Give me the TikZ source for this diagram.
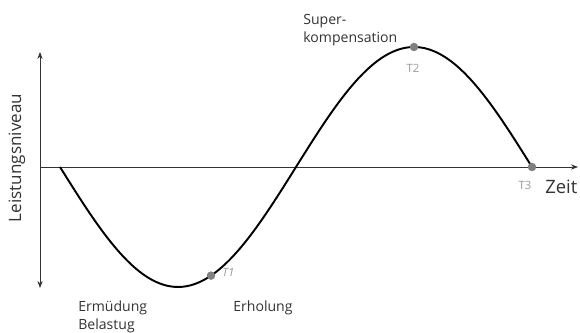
\documentclass[tikz,border=0pt]{standalone}
\usepackage{fontspec}
\setmainfont{Open Sans}
\usetikzlibrary{arrows.meta}
\definecolor{txt}{HTML}{333333}
\definecolor{ptgray}{HTML}{808080}
\begin{document}
\begin{tikzpicture}[x=0.02cm,y=-0.02cm,
  axis/.style={draw=black!80,line width=0.5pt},
  curve/.style={draw=black,line width=1.1pt},
  dot/.style={circle,fill=ptgray,inner sep=0pt,minimum size=8.5*0.02cm},
  lbl/.style={font=\fontsize{8}{10}\selectfont,text=txt,inner sep=0pt},
  tlbl/.style={font=\fontsize{6.5}{8}\selectfont,text=ptgray!80,inner sep=0pt},
  big/.style={font=\fontsize{10.5}{12}\selectfont,text=txt,inner sep=0pt}]
\useasboundingbox (0,0) rectangle (580,333);
\coordinate (ytop) at (40,52);
\coordinate (ybot) at (40,288);
\coordinate (xl) at (40,167);
\coordinate (xr) at (578,167);
\draw[axis,{Stealth[length=4pt,width=3pt]}-{Stealth[length=4pt,width=3pt]}] (ybot) -- (ytop);
\draw[axis,-{Stealth[length=4pt,width=3pt]}] (xl) -- (xr);
\draw[curve] plot[domain=60:532,samples=120,smooth] (\x,{167+120*sin((\x-60)/472*360)});
\node[dot] (t1) at (211,{167+120*sin((211-60)/472*360)}) {};
\node[dot] (t2) at (414,47) {};
\node[dot] (t3) at (532,167) {};
\node[tlbl,anchor=west] (t1l) at (222,272) {\itshape T1};
\node[tlbl] (t2l) at (413,68) {T2};
\node[tlbl] (t3l) at (525,185) {T3};
\node[big,anchor=west] (zeit) at (545,187) {Zeit};
\node[font=\fontsize{9.7}{12}\selectfont,text=txt,inner sep=0pt,rotate=90] (niv) at (17,158) {Leistungsniveau};
\node[lbl,anchor=west,align=left] (sk) at (303,30) {Super-\\kompensation};
\node[lbl,anchor=west,align=left] (eb) at (78,317) {Ermüdung\\Belastug};
\node[lbl,anchor=west] (er) at (233,308) {Erholung};
\end{tikzpicture}
\end{document}
